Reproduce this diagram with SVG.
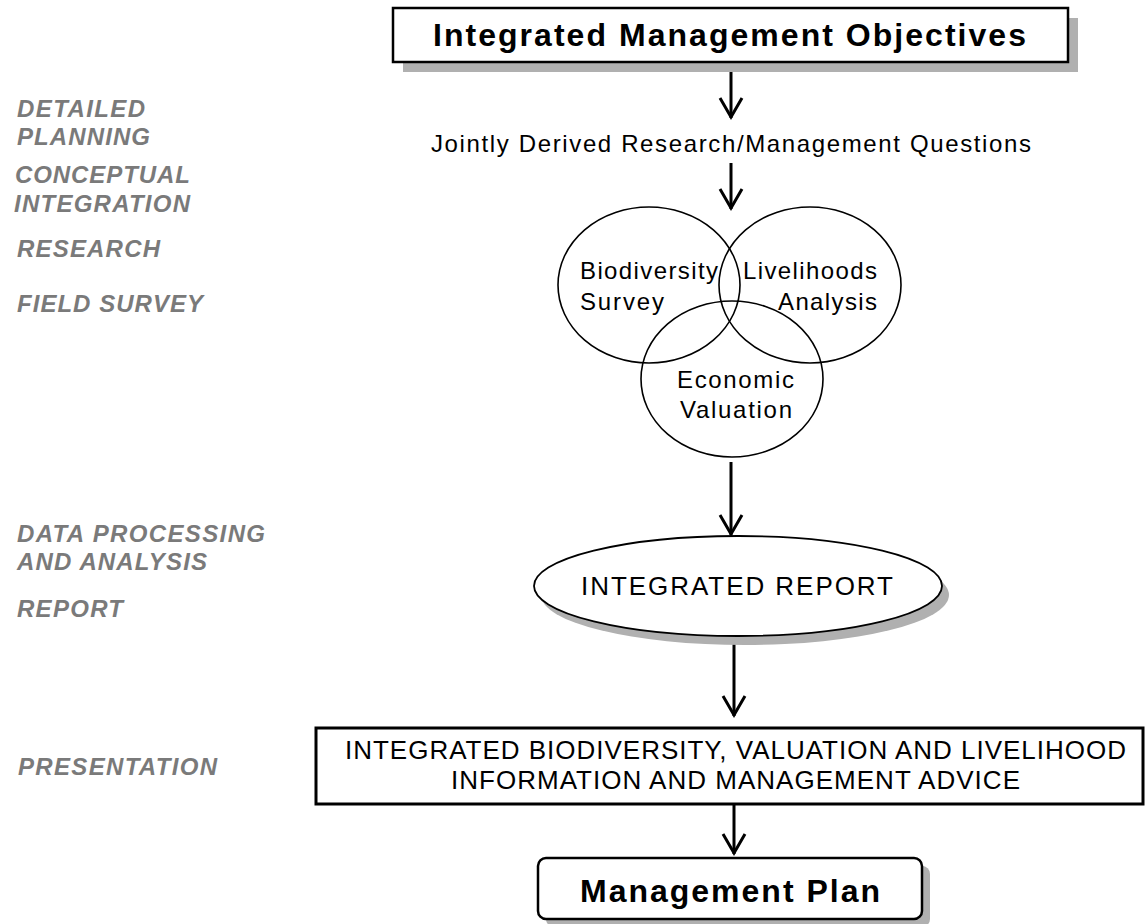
<svg xmlns="http://www.w3.org/2000/svg" width="1146" height="924" viewBox="0 0 1146 924">
<style>
.lbl{font-family:"Liberation Sans",Arial,sans-serif;font-size:24px;font-weight:bold;font-style:italic;fill:#7a7a7a}
.reg{font-family:"Liberation Sans",Arial,sans-serif;font-size:24px;fill:#000}
.cap{font-family:"Liberation Sans",Arial,sans-serif;font-size:26px;fill:#000}
.big{font-family:"Liberation Sans",Arial,sans-serif;font-size:32px;font-weight:bold;fill:#000}
.box{fill:#fff;stroke:#000;stroke-width:2.5}
.shadow{fill:#b0b0b0;stroke:none}
.circ{fill:none;stroke:#000;stroke-width:1.6}
.conn{stroke:#000;stroke-width:3;fill:none;marker-end:url(#arr)}
</style>
<defs>
<marker id="arr" viewBox="-15 -24 30 27" refX="0" refY="0" markerWidth="30" markerHeight="27" markerUnits="userSpaceOnUse" orient="0">
<path d="M-11,-20 L0,-1 L11,-20" fill="none" stroke="#000" stroke-width="3"/>
</marker>
</defs>
<rect width="1146" height="924" fill="#fff"/>

<g id="stage-labels">
<text class="lbl" x="17" y="117" textLength="128" lengthAdjust="spacing">DETAILED</text>
<text class="lbl" x="17" y="145" textLength="133" lengthAdjust="spacing">PLANNING</text>
<text class="lbl" x="15" y="183" textLength="175" lengthAdjust="spacing">CONCEPTUAL</text>
<text class="lbl" x="14" y="212" textLength="176" lengthAdjust="spacing">INTEGRATION</text>
<text class="lbl" x="17" y="257" textLength="143" lengthAdjust="spacing">RESEARCH</text>
<text class="lbl" x="17" y="312" textLength="186" lengthAdjust="spacing">FIELD SURVEY</text>
<text class="lbl" x="17" y="542" textLength="248" lengthAdjust="spacing">DATA PROCESSING</text>
<text class="lbl" x="17" y="570" textLength="190" lengthAdjust="spacing">AND ANALYSIS</text>
<text class="lbl" x="17" y="617" textLength="106" lengthAdjust="spacing">REPORT</text>
<text class="lbl" x="18" y="775" textLength="199" lengthAdjust="spacing">PRESENTATION</text>
</g>

<g id="connectors">
<line class="conn" x1="731" y1="63" x2="731" y2="118"/>
<line class="conn" x1="731" y1="163" x2="731" y2="209"/>
<line class="conn" x1="731" y1="462" x2="731" y2="535"/>
<line class="conn" x1="734" y1="637" x2="734" y2="716"/>
<line class="conn" x1="734" y1="805" x2="734" y2="854"/>
</g>

<g id="objectives">
<rect class="shadow" x="403" y="18" width="675" height="54"/>
<rect class="box" x="393" y="8" width="675" height="54"/>
<text class="big" x="433" y="46" textLength="593" lengthAdjust="spacing">Integrated Management Objectives</text>
</g>

<g id="questions">
<text class="reg" x="431" y="152" textLength="600" lengthAdjust="spacing">Jointly Derived Research/Management Questions</text>
</g>

<g id="biodiversity">
<ellipse class="circ" cx="649" cy="285" rx="91" ry="78"/>
<text class="reg" x="580" y="279" textLength="138" lengthAdjust="spacing">Biodiversity</text>
<text class="reg" x="580" y="310" textLength="84" lengthAdjust="spacing">Survey</text>
</g>

<g id="livelihoods">
<ellipse class="circ" cx="810" cy="285" rx="91" ry="78"/>
<text class="reg" x="743" y="279" textLength="134" lengthAdjust="spacing">Livelihoods</text>
<text class="reg" x="778" y="310" textLength="99" lengthAdjust="spacing">Analysis</text>
</g>

<g id="economic">
<ellipse class="circ" cx="732" cy="379" rx="91" ry="78"/>
<text class="reg" x="677" y="388" textLength="117" lengthAdjust="spacing">Economic</text>
<text class="reg" x="680" y="418" textLength="112" lengthAdjust="spacing">Valuation</text>
</g>

<g id="report">
<ellipse class="shadow" cx="745" cy="595" rx="204" ry="50"/>
<ellipse fill="#fff" stroke="#000" stroke-width="1.8" cx="738" cy="586" rx="204" ry="50"/>
<text class="cap" x="581" y="595" textLength="312" lengthAdjust="spacing">INTEGRATED REPORT</text>
</g>

<g id="advice">
<rect fill="#fff" stroke="#000" stroke-width="3" x="316" y="728" width="827" height="76"/>
<text class="cap" x="345" y="759" textLength="781" lengthAdjust="spacing">INTEGRATED BIODIVERSITY, VALUATION AND LIVELIHOOD</text>
<text class="cap" x="451" y="789" textLength="569" lengthAdjust="spacing">INFORMATION AND MANAGEMENT ADVICE</text>
</g>

<g id="management-plan">
<rect class="shadow" x="546" y="866" width="384" height="61" rx="8"/>
<rect class="box" x="538" y="858" width="384" height="61" rx="8"/>
<text class="big" x="580" y="902" textLength="300" lengthAdjust="spacing">Management Plan</text>
</g>
</svg>
